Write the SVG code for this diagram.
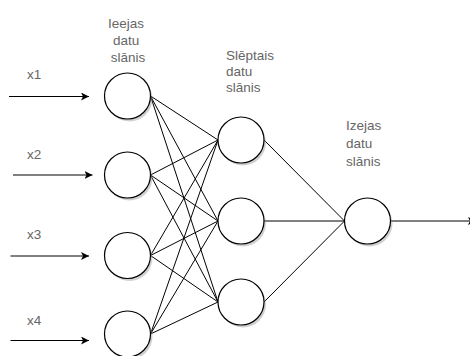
<svg xmlns="http://www.w3.org/2000/svg" width="470" height="356" viewBox="0 0 470 356">
  <defs>
    <marker id="arr" viewBox="0 0 8 8" refX="8" refY="4" markerWidth="8" markerHeight="8" markerUnits="userSpaceOnUse" orient="auto">
      <path d="M0,0 L8,4 L0,8 L2,4 Z" fill="#000"/>
    </marker>
  </defs>
  <style>
    .lbl { font-family: "Liberation Sans", Arial, sans-serif; font-size: 13.5px; fill: #666; }
    .node { fill: #fff; stroke: #000; stroke-width: 1.2; }
    .shadow { fill: #999; opacity: 0.45; }
    .edge { stroke: #000; stroke-width: 1; fill: none; }
  </style>
  <rect width="470" height="356" fill="#fff"/>

  <g id="connectors">
    <!-- inputs -->
    <line class="edge" x1="9" y1="96.5" x2="89" y2="96.5" marker-end="url(#arr)"/>
    <line class="edge" x1="13" y1="175" x2="92.5" y2="175" marker-end="url(#arr)"/>
    <line class="edge" x1="10.5" y1="256" x2="89" y2="256" marker-end="url(#arr)"/>
    <line class="edge" x1="10.5" y1="340.5" x2="89" y2="340.5" marker-end="url(#arr)"/>
    <!-- input to hidden -->
    <path class="edge" d="M150.5,96 L218,140 M150.5,96 L218,221 M150.5,96 L218,302
                          M150.5,175 L218,140 M150.5,175 L218,221 M150.5,175 L218,302
                          M150.5,255.5 L218,140 M150.5,255.5 L218,221 M150.5,255.5 L218,302
                          M150.5,334 L218,140 M150.5,334 L218,221 M150.5,334 L218,302"/>
    <!-- hidden to output -->
    <path class="edge" d="M264,140 L344.5,221 M264,221 L344.5,221 M264,302 L344.5,221"/>
    <!-- output -->
    <line class="edge" x1="390.5" y1="221" x2="476" y2="221" marker-end="url(#arr)"/>
  </g>

  <g id="in1"><circle class="shadow" cx="129.5" cy="98.5" r="23"/><circle class="node" cx="127.5" cy="96" r="23"/></g>
  <g id="in2"><circle class="shadow" cx="129.5" cy="177.5" r="23"/><circle class="node" cx="127.5" cy="175" r="23"/></g>
  <g id="in3"><circle class="shadow" cx="129.5" cy="258" r="23"/><circle class="node" cx="127.5" cy="255.5" r="23"/></g>
  <g id="in4"><circle class="shadow" cx="129.5" cy="336.5" r="23"/><circle class="node" cx="127.5" cy="334" r="23"/></g>

  <g id="h1"><circle class="shadow" cx="243" cy="142.5" r="23"/><circle class="node" cx="241" cy="140" r="23"/></g>
  <g id="h2"><circle class="shadow" cx="243" cy="223.5" r="23"/><circle class="node" cx="241" cy="221" r="23"/></g>
  <g id="h3"><circle class="shadow" cx="243" cy="304.5" r="23"/><circle class="node" cx="241" cy="302" r="23"/></g>

  <g id="out"><circle class="shadow" cx="369.5" cy="223.5" r="23"/><circle class="node" cx="367.5" cy="221" r="23"/></g>

  <g id="labels">
    <text class="lbl" x="27" y="79">x1</text>
    <text class="lbl" x="27" y="159">x2</text>
    <text class="lbl" x="27" y="239">x3</text>
    <text class="lbl" x="27" y="325">x4</text>

    <text class="lbl" text-anchor="middle">
      <tspan x="128" y="28">Ieejas</tspan>
      <tspan x="128" y="45">datu</tspan>
      <tspan x="128" y="62">slānis</tspan>
    </text>
    <text class="lbl">
      <tspan x="226" y="60">Slēptais</tspan>
      <tspan x="226" y="76">datu</tspan>
      <tspan x="226" y="92">slānis</tspan>
    </text>
    <text class="lbl">
      <tspan x="346" y="130">Izejas</tspan>
      <tspan x="346" y="148">datu</tspan>
      <tspan x="346" y="166">slānis</tspan>
    </text>
  </g>
</svg>
